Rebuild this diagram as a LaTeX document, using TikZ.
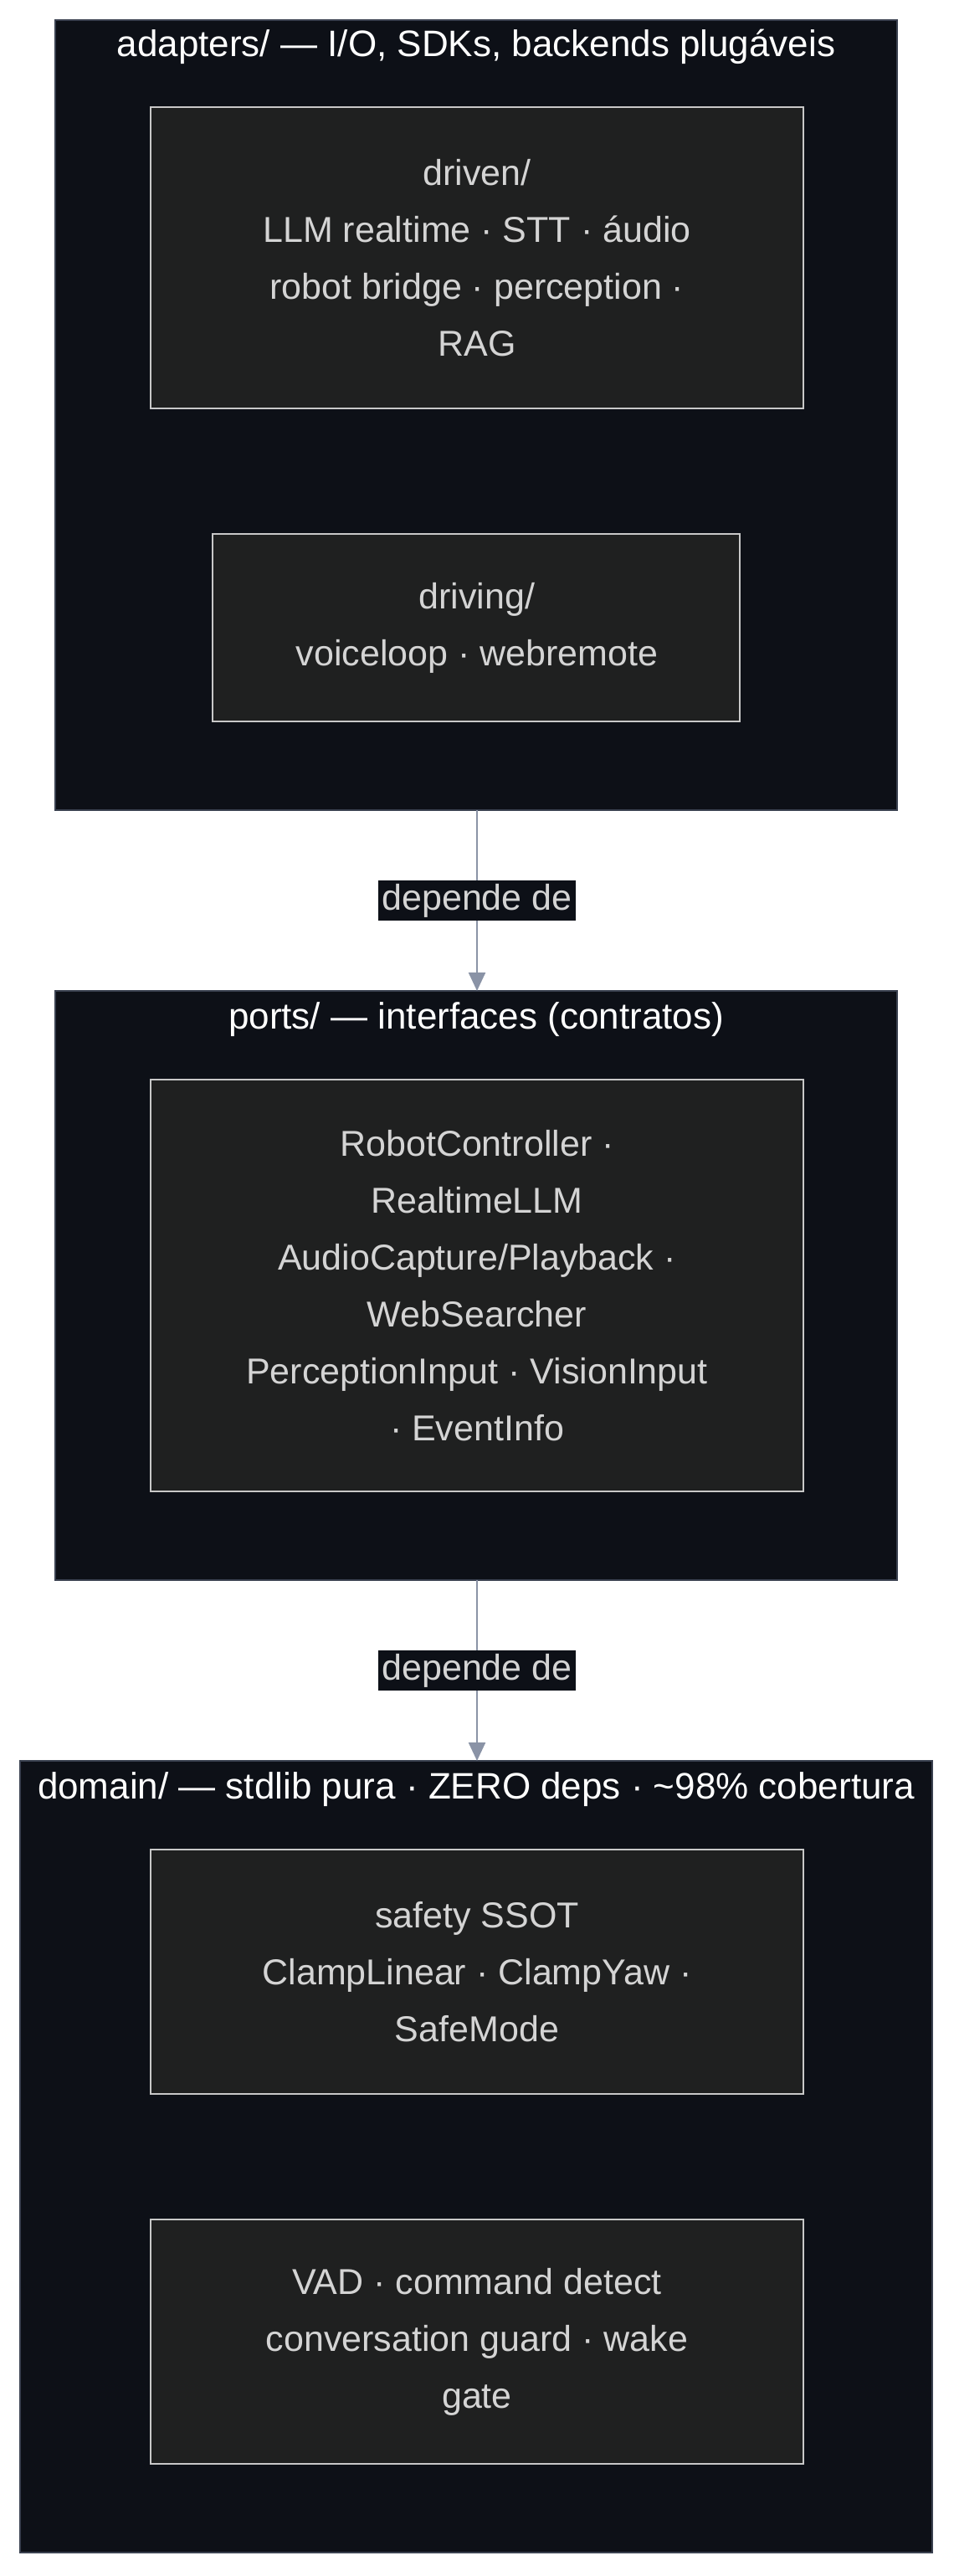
\documentclass[tikz,border=0pt]{standalone}
\usepackage{fontspec}
\setmainfont{Liberation Sans}
\usetikzlibrary{arrows.meta}
\definecolor{clus}{HTML}{0D1017}
\definecolor{clusb}{HTML}{3A4150}
\definecolor{boxf}{HTML}{1F2020}
\definecolor{boxb}{HTML}{C8C8C8}
\definecolor{txt}{HTML}{D4D4D4}
\definecolor{edge}{HTML}{8A93A6}
\begin{document}
\begin{tikzpicture}[x=1pt,y=-1pt,
  cluster/.style={draw=clusb,fill=clus,line width=0.8pt},
  ctitle/.style={text=white,font=\fontsize{22}{26}\selectfont,inner sep=0pt},
  box/.style={draw=boxb,fill=boxf,line width=1pt},
  btxt/.style={text=txt,align=center,font=\fontsize{21.5}{34}\selectfont,inner sep=0pt},
  elab/.style={fill=clus,text=txt,font=\fontsize{21.5}{26}\selectfont,inner sep=2pt},
  arr/.style={draw=edge,line width=1.2pt,-{Triangle[length=11pt,width=10pt]}}]
\useasboundingbox[fill=white] (0,0) rectangle (570,1539);
% adapters
\draw[cluster] (33,12) rectangle (536,484);
\node[ctitle] (t1) at (284.5,28) {adapters/ — I/O, SDKs, backends plugáveis};
\draw[box] (90,64) rectangle (480,244);
\node[btxt] (driven) at (285,154) {driven/\\LLM realtime · STT · áudio\\robot bridge · perception ·\\RAG};
\draw[box] (127,319) rectangle (442,431);
\node[btxt] (driving) at (285,375) {driving/\\voiceloop · webremote};
% ports
\draw[cluster] (33,592) rectangle (536,944);
\node[ctitle] (t2) at (284.5,609) {ports/ — interfaces (contratos)};
\draw[box] (90,645) rectangle (480,891);
\node[btxt] (ports) at (285,768) {RobotController ·\\RealtimeLLM\\AudioCapture/Playback ·\\WebSearcher\\PerceptionInput · VisionInput\\· EventInfo};
% domain
\draw[cluster] (12,1052) rectangle (557,1525);
\node[ctitle] (t3) at (284.5,1069) {domain/ — stdlib pura · ZERO deps · \textasciitilde 98\% cobertura};
\draw[box] (90,1105) rectangle (480,1251);
\node[btxt] (safety) at (285,1178) {safety SSOT\\ClampLinear · ClampYaw ·\\SafeMode};
\draw[box] (90,1326) rectangle (480,1472);
\node[btxt] (vad) at (285,1399) {VAD · command detect\\conversation guard · wake\\gate};
% edges
\coordinate (a1) at (285,484); \coordinate (a2) at (285,592);
\coordinate (b1) at (285,944); \coordinate (b2) at (285,1052);
\draw[arr] (a1) -- node[elab] {depende de} (a2);
\draw[arr] (b1) -- node[elab] {depende de} (b2);
\end{tikzpicture}
\end{document}
